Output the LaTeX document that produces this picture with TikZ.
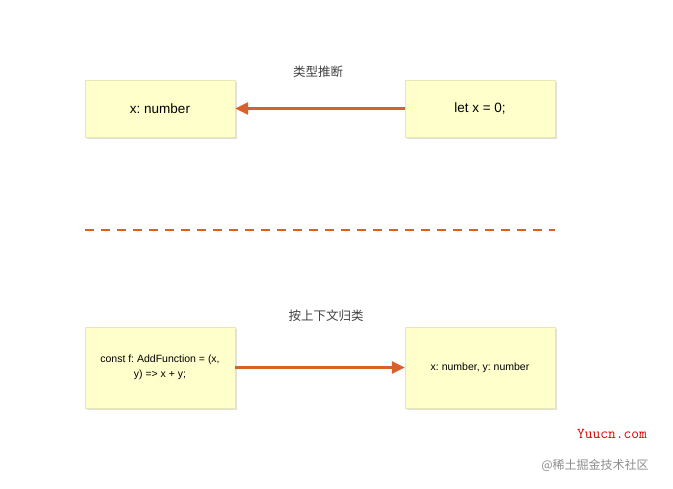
\documentclass[tikz,border=0pt]{standalone}
\usepackage{fontspec}
\setmainfont{Liberation Sans}
\newfontfamily\cjk{Noto Sans CJK SC}
\usetikzlibrary{arrows.meta,shadows}
\definecolor{boxfill}{HTML}{FFFFCC}
\definecolor{boxline}{HTML}{E8E8B0}
\definecolor{arr}{HTML}{D9602B}
\tikzset{box/.style={draw=boxline,fill=boxfill,minimum width=150pt,align=center,
  drop shadow={shadow xshift=2pt,shadow yshift=-2pt,opacity=0.25}},
  conn/.style={draw=arr,line width=2.5pt,-{Triangle[length=13pt,width=12pt]}}}
\begin{document}
\frenchspacing
\begin{tikzpicture}[x=1pt,y=-1pt]
\useasboundingbox (0,0) rectangle (673,488);
\node[box,minimum height=57pt,font=\fontsize{13.5}{16}\selectfont] (a) at (160,108.5) {x: number};
\node[box,minimum height=57pt,font=\fontsize{13.5}{16}\selectfont] (b) at (480,108.5) {let x = 0;};
\node[box,minimum height=81pt,font=\fontsize{10.5}{15}\selectfont] (c) at (160,367.5) {const f: AddFunction = (x,\\ y) =\textgreater{} x + y;};
\node[box,minimum height=81pt,font=\fontsize{10.5}{15}\selectfont] (d) at (480,367.5) {x: number, y: number};
\draw[conn] (b) -- (a);
\draw[conn] (c) -- (d);
\node[font=\cjk\fontsize{12.5}{15}\selectfont,text=black!75] (t1) at (318,72) {类型推断};
\node[font=\cjk\fontsize{12.5}{15}\selectfont,text=black!75] (t2) at (326,316) {按上下文归类};
\coordinate (l1) at (85,230); \coordinate (l2) at (555,230);
\draw[arr,line width=1.8pt,dash pattern=on 9pt off 7pt] (l1) -- (l2);
\node[font=\ttfamily\fontsize{15}{17}\selectfont,text=red!85!black] (w1) at (612,434) {Yuucn.com};
\node[font=\cjk\fontsize{12}{14}\selectfont,text=black!45] (w2) at (595,465) {@稀土掘金技术社区};
\end{tikzpicture}
\end{document}
